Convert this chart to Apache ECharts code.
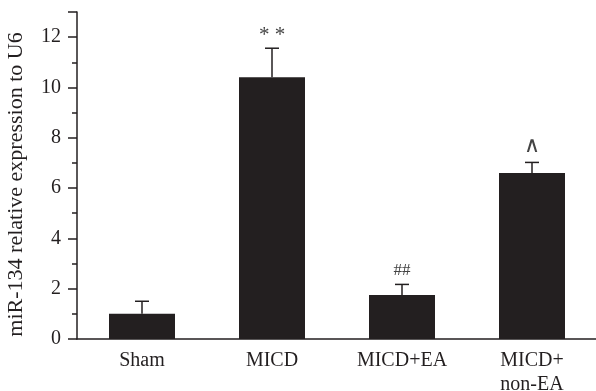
<!DOCTYPE html>
<html>
<head>
<meta charset="utf-8">
<script src="https://cdn.jsdelivr.net/npm/echarts@6/dist/echarts.min.js"></script>
<style>html,body{margin:0;padding:0;background:#fff}#c{width:596px;height:391px}</style>
</head>
<body>
<div id="c"></div>
<script>
const categories = ['Sham', 'MICD', 'MICD+EA', 'MICD+\nnon-EA'];
const means = [1.0, 10.41, 1.75, 6.6];
const errorTops = [1.5, 11.56, 2.17, 7.02];
const marks = ['', '* *', '##', '^'];
const yTicks = [0, 2, 4, 6, 8, 10, 12];

const ink = '#231f20';
const serif = '"Liberation Serif", "Times New Roman", serif';

const chart = echarts.init(document.getElementById('c'), null, {renderer: 'canvas'});
chart.setOption({
  animation: false,
  backgroundColor: '#fff',
  grid: {left: 77, right: -1, top: 12, bottom: 52, containLabel: false, outerBoundsMode: 'none'},
  xAxis: {
    type: 'category',
    data: categories,
    boundaryGap: true,
    axisLine: {lineStyle: {color: ink, width: 1.5}},
    axisTick: {show: false},
    axisLabel: {color: ink, fontFamily: serif, fontSize: 20, margin: 10, lineHeight: 24, interval: 0}
  },
  yAxis: {
    type: 'value',
    min: 0, max: 13, interval: 2,
    axisLine: {show: true, lineStyle: {color: ink, width: 1.5}},
    axisTick: {show: true, length: 9, lineStyle: {color: ink, width: 1.5}},
    minorTick: {show: true, splitNumber: 2, length: 5, lineStyle: {color: ink, width: 1.5}},
    splitLine: {show: false},
    axisLabel: {color: ink, fontFamily: serif, fontSize: 20, margin: 16,
      formatter: v => yTicks.indexOf(v) >= 0 ? String(v) : ''},
    name: 'miR-134 relative expression to U6',
    nameLocation: 'middle',
    nameGap: 50,
    nameTextStyle: {color: ink, fontFamily: serif, fontSize: 22, padding: [0, 18, 0, 0]}
  },
  series: [
    {
      type: 'bar',
      data: means,
      barWidth: 66,
      itemStyle: {color: ink},
      z: 2
    },
    {
      type: 'custom',
      data: categories.map((c, i) => [i, means[i], errorTops[i]]),
      z: 3,
      renderItem: function (params, api) {
        const i = api.value(0);
        const base = api.coord([i, api.value(1)]);
        const top = api.coord([i, api.value(2)]);
        const half = 7;
        const st = {stroke: ink, lineWidth: 1.5};
        const children = [
          {type: 'line', shape: {x1: base[0], y1: base[1], x2: top[0], y2: top[1]}, style: st},
          {type: 'line', shape: {x1: top[0] - half, y1: top[1], x2: top[0] + half, y2: top[1]}, style: st}
        ];
        const m = marks[i];
        if (m) {
          const isCaret = m === '^';
          const dy = isCaret ? 5 : (m === '##' ? 5 : 2);
          children.push({
            type: 'text',
            style: {
              text: isCaret ? '\u2227' : m,
              x: top[0], y: top[1] - dy,
              align: 'center', verticalAlign: 'bottom',
              fontFamily: serif, fontSize: isCaret ? 22 : (m === '##' ? 17 : 21),
              fill: '#444'
            }
          });
        }
        return {type: 'group', children: children};
      }
    }
  ]
});
</script>
</body>
</html>
